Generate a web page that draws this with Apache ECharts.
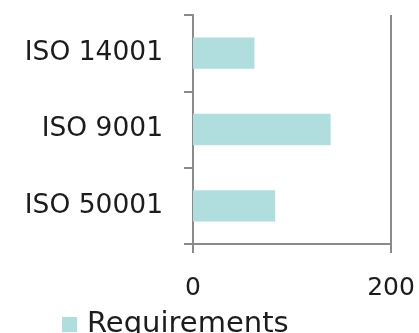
<!DOCTYPE html>
<html>
<head>
<meta charset="utf-8">
<script src="https://cdn.jsdelivr.net/npm/echarts@6/dist/echarts.min.js"></script>
<style>
  html, body { margin: 0; padding: 0; background: #fff; }
  #chart { width: 419px; height: 333px; }
</style>
</head>
<body>
<div id="chart"></div>
<script>
// Number of requirements per ISO management-system standard
const standards = ['ISO 14001', 'ISO 9001', 'ISO 50001'];
const requirements = [62, 139, 83];
const xTicks = [0, 200];
const seriesName = 'Requirements';

const font = 'Verdana, "DejaVu Sans", sans-serif';
const axisGray = '#8a8a8a';
const textColor = '#1c1c1c';

const chart = echarts.init(document.getElementById('chart'), null, { renderer: 'canvas' });
chart.setOption({
  animation: false,
  legend: {
    data: [seriesName],
    left: 57,
    top: 305,
    itemWidth: 15,
    itemHeight: 15,
    icon: 'rect',
    itemGap: 10,
    textStyle: { fontFamily: font, fontSize: 29, color: textColor, padding: [0, 0, 0, 5] }
  },
  grid: { left: 193, right: 28, top: 15, bottom: 89, containLabel: false },
  xAxis: {
    type: 'value',
    min: xTicks[0],
    max: xTicks[xTicks.length - 1],
    interval: xTicks[1] - xTicks[0],
    axisLine: { show: true, lineStyle: { color: axisGray, width: 2 } },
    axisTick: { show: true, length: 9, lineStyle: { color: axisGray, width: 2 } },
    splitLine: { show: true, lineStyle: { color: axisGray, width: 2 } },
    axisLabel: { margin: 32, fontFamily: font, fontSize: 25, color: textColor }
  },
  yAxis: {
    type: 'category',
    data: standards,
    inverse: true,
    axisLine: { show: true, lineStyle: { color: axisGray, width: 2 } },
    axisTick: { show: true, length: 9, lineStyle: { color: axisGray, width: 2 } },
    axisLabel: { margin: 30, fontFamily: font, fontSize: 26.5, color: textColor }
  },
  series: [{
    name: seriesName,
    type: 'bar',
    data: requirements,
    barWidth: '41%',
    itemStyle: { color: '#b0dddd' }
  }]
});
</script>
</body>
</html>
